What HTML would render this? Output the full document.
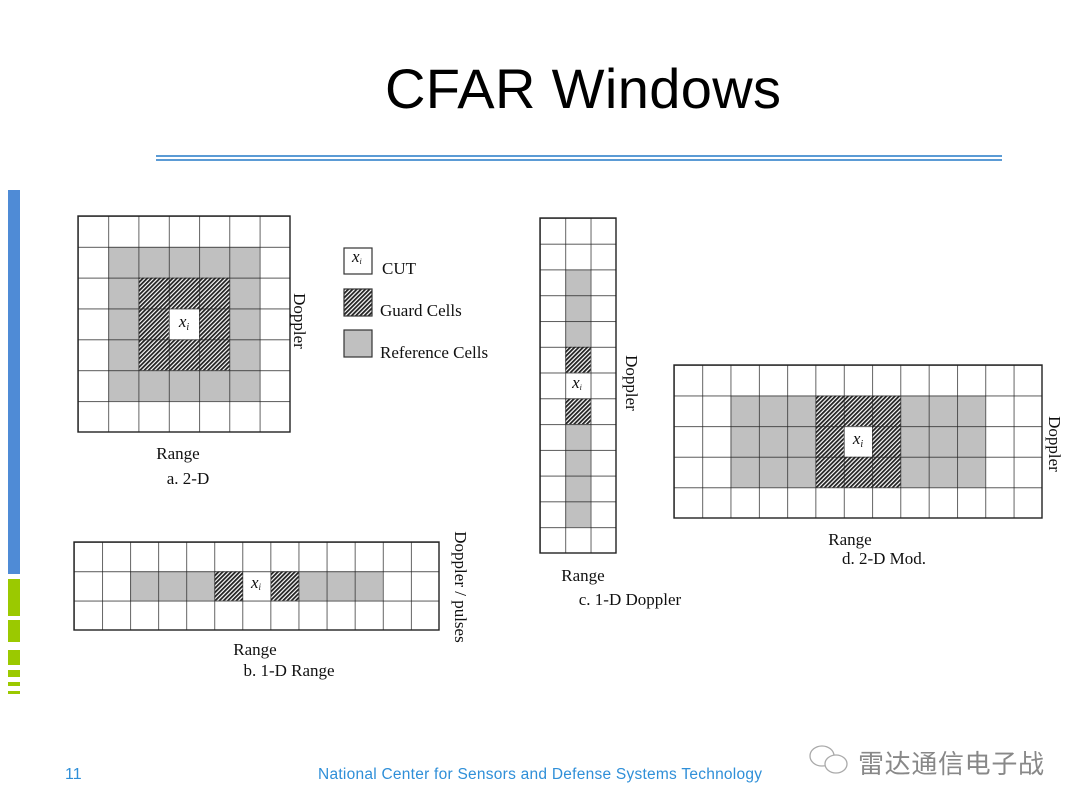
<!DOCTYPE html>
<html><head><meta charset="utf-8"><style>
html,body{margin:0;padding:0;background:#fff;}
svg{display:block}
.s{font-family:"Liberation Serif",serif;font-size:17px;fill:#111}
</style></head><body>
<svg width="1080" height="810" viewBox="0 0 1080 810" xmlns="http://www.w3.org/2000/svg">
<defs>
<pattern id="h" width="3" height="3" patternUnits="userSpaceOnUse" patternTransform="rotate(45)">
<rect width="3" height="3" fill="#fff"/><rect width="1.8" height="3" fill="#222"/></pattern>
<pattern id="ga" x="78" y="216" width="30.286" height="30.857" patternUnits="userSpaceOnUse"><path d="M0 0H30.286M0 0V30.857" stroke="#222" stroke-width="1.4" fill="none"/></pattern>
<pattern id="gd" x="674" y="365" width="28.308" height="30.6" patternUnits="userSpaceOnUse"><path d="M0 0H28.308M0 0V30.6" stroke="#222" stroke-width="1.4" fill="none"/></pattern>
<pattern id="gc" x="540" y="218" width="25.333" height="25.77" patternUnits="userSpaceOnUse"><path d="M0 0H25.333M0 0V25.77" stroke="#222" stroke-width="1.4" fill="none"/></pattern>
<pattern id="gb" x="74" y="542" width="28.077" height="29.333" patternUnits="userSpaceOnUse"><path d="M0 0H28.077M0 0V29.333" stroke="#222" stroke-width="1.4" fill="none"/></pattern>
</defs>
<rect x="8" y="190" width="12" height="384" fill="#4f8bd6"/>
<rect x="8" y="579" width="12" height="37" fill="#9bc900"/>
<rect x="8" y="620" width="12" height="22" fill="#9bc900"/>
<rect x="8" y="650" width="12" height="15" fill="#9bc900"/>
<rect x="8" y="670" width="12" height="7" fill="#9bc900"/>
<rect x="8" y="682" width="12" height="4" fill="#9bc900"/>
<rect x="8" y="691" width="12" height="3" fill="#9bc900"/>
<text x="583" y="108" text-anchor="middle" font-family="Liberation Sans,sans-serif" font-size="56" fill="#000" textLength="396">CFAR Windows</text>
<rect x="156" y="155" width="846" height="2" fill="#5b9bd5"/>
<rect x="156" y="159" width="846" height="2" fill="#5b9bd5"/>
<rect x="108.29" y="246.86" width="151.43" height="154.29" fill="#c0c0c0"/>
<rect x="138.57" y="277.71" width="90.86" height="92.57" fill="url(#h)"/>
<rect x="168.86" y="308.57" width="30.29" height="30.86" fill="#fff"/>
<rect x="78" y="216" width="212" height="216" fill="url(#ga)" stroke="#222" stroke-width="1.4"/>
<text x="184" y="327" text-anchor="middle" class="s" font-style="italic" font-size="14">x<tspan font-size="10" dy="3">i</tspan></text>
<text class="s" transform="translate(294,321) rotate(90)" text-anchor="middle">Doppler</text>
<text x="178" y="459" text-anchor="middle" class="s">Range</text>
<text x="188" y="484" text-anchor="middle" class="s">a. 2-D</text>
<rect x="344" y="248" width="28" height="26" fill="#fff" stroke="#333" stroke-width="1.2"/>
<text x="352" y="262" class="s" font-style="italic" font-size="12">x<tspan font-size="8" dy="2">i</tspan></text>
<text x="382" y="274" class="s">CUT</text>
<rect x="344" y="289" width="28" height="27" fill="url(#h)" stroke="#333" stroke-width="1.2"/>
<text x="380" y="316" class="s">Guard Cells</text>
<rect x="344" y="330" width="28" height="27" fill="#c0c0c0" stroke="#333" stroke-width="1.2"/>
<text x="380" y="358" class="s">Reference Cells</text>
<rect x="565.33" y="269.54" width="25.33" height="257.7" fill="#c0c0c0"/>
<rect x="565.33" y="346.85" width="25.33" height="25.77" fill="url(#h)"/>
<rect x="565.33" y="398.4" width="25.33" height="25.77" fill="url(#h)"/>
<rect x="565.33" y="372.62" width="25.33" height="25.77" fill="#fff"/>
<rect x="540" y="218" width="76" height="335" fill="url(#gc)" stroke="#222" stroke-width="1.4"/>
<text x="577" y="388" text-anchor="middle" class="s" font-style="italic" font-size="12">x<tspan font-size="8" dy="2">i</tspan></text>
<text class="s" transform="translate(626,383) rotate(90)" text-anchor="middle">Doppler</text>
<text x="583" y="581" text-anchor="middle" class="s">Range</text>
<text x="630" y="605" text-anchor="middle" class="s">c. 1-D Doppler</text>
<rect x="730.6" y="395.6" width="254.8" height="91.8" fill="#c0c0c0"/>
<rect x="815.5" y="395.6" width="84.9" height="91.8" fill="url(#h)"/>
<rect x="843.8" y="426.2" width="28.3" height="30.6" fill="#fff"/>
<rect x="674" y="365" width="368" height="153" fill="url(#gd)" stroke="#222" stroke-width="1.4"/>
<text x="858" y="444" text-anchor="middle" class="s" font-style="italic" font-size="14">x<tspan font-size="10" dy="3">i</tspan></text>
<text class="s" transform="translate(1049,444) rotate(90)" text-anchor="middle">Doppler</text>
<text x="850" y="545" text-anchor="middle" class="s">Range</text>
<text x="884" y="564" text-anchor="middle" class="s">d. 2-D Mod.</text>
<rect x="130.15" y="571.33" width="252.7" height="29.33" fill="#c0c0c0"/>
<rect x="214.4" y="571.33" width="28.08" height="29.33" fill="url(#h)"/>
<rect x="270.5" y="571.33" width="28.08" height="29.33" fill="url(#h)"/>
<rect x="242.5" y="571.33" width="28.08" height="29.33" fill="#fff"/>
<rect x="74" y="542" width="365" height="88" fill="url(#gb)" stroke="#222" stroke-width="1.4"/>
<text x="256" y="588" text-anchor="middle" class="s" font-style="italic" font-size="13">x<tspan font-size="9" dy="2">i</tspan></text>
<text class="s" transform="translate(455,587) rotate(90)" text-anchor="middle">Doppler / pulses</text>
<text x="255" y="655" text-anchor="middle" class="s">Range</text>
<text x="289" y="676" text-anchor="middle" class="s">b. 1-D Range</text>
<text x="65" y="779" font-family="Liberation Sans,sans-serif" font-size="16" fill="#2f8fd8">11</text>
<text x="318" y="779" font-family="Liberation Sans,sans-serif" font-size="15.5" fill="#2f8fd8" textLength="444">National Center for Sensors and Defense Systems Technology</text>
<g fill="#fff" stroke="#aaa" stroke-width="1.3">
<ellipse cx="822" cy="756" rx="12" ry="10"/>
<ellipse cx="836" cy="764" rx="11" ry="9"/>
</g>
<text x="858" y="773" font-family="'WenQuanYi Zen Hei','Noto Sans CJK SC',sans-serif" font-size="26" fill="#888" textLength="186">雷达通信电子战</text>
</svg>
</body></html>
